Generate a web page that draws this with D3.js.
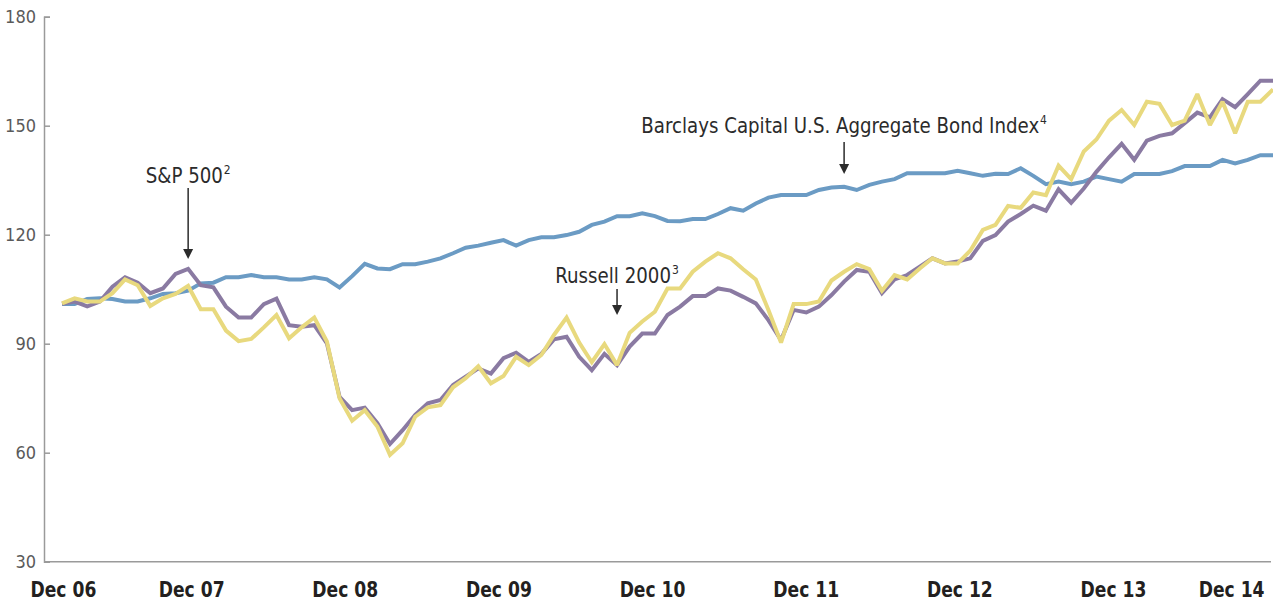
<!DOCTYPE html>
<html><head><meta charset="utf-8">
<script src="https://cdn.jsdelivr.net/npm/d3@7"></script>
<style>
html,body{margin:0;padding:0;background:#fff;}
svg{display:block;}
</style></head><body>
<svg id="chart" width="1273" height="604"></svg>
<script>
// ---- DATA ----
const months = d3.timeMonths(new Date(2006, 11, 1), new Date(2015, 0, 1)).map(d3.timeFormat("%b %y"));

const sp500 = [
  101.0,101.6,100.3,101.6,105.7,108.3,106.8,103.9,105.2,109.2,
  110.6,106.1,105.5,100.2,97.2,97.2,100.9,102.4,95.1,94.7,
  95.1,90.1,75.4,71.7,72.4,68.1,62.4,66.2,70.4,73.6,
  74.5,78.6,80.9,83.2,81.8,86.0,87.5,85.0,87.2,91.2,
  91.9,86.4,82.7,87.2,84.1,89.2,92.8,92.8,97.9,100.2,
  103.1,103.1,105.2,104.6,102.9,101.1,96.5,91.0,99.3,98.6,
  100.2,103.4,107.1,110.3,109.8,103.9,107.7,108.9,111.2,113.5,
  112.1,112.6,113.5,118.3,119.9,123.6,125.7,128.0,126.6,132.5,
  128.8,132.7,137.3,141.3,145.0,140.6,145.9,147.2,147.9,150.7,
  153.6,152.3,157.3,155.1,158.7,162.4,162.4
];

const russell2000 = [
  101.1,102.5,101.6,101.6,103.9,107.7,106.1,100.4,102.5,103.7,
  105.9,99.5,99.5,93.6,90.7,91.3,94.5,97.9,91.5,94.5,
  97.2,90.6,75.0,68.8,71.7,67.2,59.4,62.6,69.9,72.5,
  73.1,78.0,80.5,83.8,79.1,81.1,86.4,84.1,86.9,92.4,
  97.2,90.3,84.9,89.9,84.1,93.0,96.1,98.8,105.2,105.2,
  109.8,112.6,114.9,113.5,110.5,107.7,99.3,90.3,100.9,100.9,
  101.6,107.4,109.8,111.9,110.5,104.6,108.9,107.7,110.7,113.5,
  112.1,112.1,115.6,121.3,122.7,127.9,127.4,131.6,130.9,139.0,
  135.3,142.9,146.2,151.4,154.3,150.2,156.6,156.0,150.2,151.4,
  158.7,150.2,156.6,147.9,156.6,156.6,160.0
];

const barclaysAgg = [
  100.9,100.9,102.3,102.5,102.3,101.6,101.6,102.5,103.7,103.9,
  104.6,106.6,106.8,108.3,108.3,108.9,108.3,108.3,107.7,107.7,
  108.3,107.7,105.5,108.6,112.0,110.7,110.5,111.9,111.9,112.6,
  113.5,114.9,116.4,117.0,117.8,118.5,117.0,118.5,119.3,119.3,
  119.9,120.8,122.7,123.6,125.1,125.1,125.9,125.1,123.8,123.7,
  124.3,124.3,125.7,127.3,126.6,128.6,130.2,130.9,130.9,130.9,
  132.3,133.0,133.2,132.3,133.7,134.6,135.3,136.9,136.9,136.9,
  136.9,137.6,136.9,136.2,136.8,136.7,138.3,136.2,133.9,134.6,
  133.9,134.6,136.0,135.3,134.6,136.7,136.7,136.7,137.5,138.9,
  138.9,138.9,140.6,139.6,140.6,141.9,141.9
];

const yTicks = [30, 60, 90, 120, 150, 180];
const xTickLabels = ["Dec 06","Dec 07","Dec 08","Dec 09","Dec 10","Dec 11","Dec 12","Dec 13","Dec 14"];

const seriesNames = ["Barclays Capital U.S. Aggregate Bond Index", "S&P 500", "Russell 2000"];
const seriesValues = [barclaysAgg, sp500, russell2000];
const seriesColors = ["#6b9bc4", "#8a7aa2", "#e8d97e"];

const annotationNames = ["S&P 500", "Russell 2000", "Barclays Capital U.S. Aggregate Bond Index"];
const annotationSups = ["2", "3", "4"];
const annotationMonths = ["Oct 07", "Aug 10", "Feb 12"];

// ---- LAYOUT ----
const axisX = 44, axisBottom = 561.7, axisTop = 16.7;
const svg = d3.select("#chart");
const narrow = "'Liberation Sans Narrow','DejaVu Sans Condensed','Arial Narrow',sans-serif";

const x = d3.scalePoint().domain(months).range([62, 1273]);
const y = d3.scaleLinear().domain([30, 180]).range([axisBottom, axisTop]);

// Y axis
const yAxis = d3.axisLeft(y).tickValues(yTicks).tickSize(-6).tickPadding(10).tickFormat(d3.format("d"));
const gy = svg.append("g").attr("transform", `translate(${axisX},0)`).call(yAxis);
gy.select(".domain").attr("stroke", "#9a9a9a").attr("stroke-width", 1.5);
gy.selectAll(".tick line").attr("stroke", "#9a9a9a").attr("stroke-width", 1.5);
gy.selectAll(".tick text").attr("fill", "#5a5a5a").attr("font-family", narrow)
  .attr("font-size", 18).attr("font-weight", 300).attr("dx", 2);

// X axis
const xs = 0.93;
const xl = d3.scalePoint().domain(xTickLabels).range([37.5, 1266.6]);
const xAxis = d3.axisBottom(xl).tickSize(0).tickPadding(0);
const gx = svg.append("g").attr("transform", `translate(0,${axisBottom})`).call(xAxis);
gx.select(".domain").attr("d", `M${axisX},0H1271`).attr("stroke", "#9a9a9a").attr("stroke-width", 1.5);
gx.selectAll(".tick text").attr("fill", "#231f20").attr("font-family", narrow)
  .attr("font-size", 20.5).attr("font-weight", "bold").attr("y", 35.5).attr("dy", 0)
  .attr("transform", `scale(${xs},1)`);
// keep first/last labels inside the frame
gx.selectAll(".tick").each(function(d) {
  const t = d3.select(this).select("text");
  const w = t.node().getComputedTextLength() * xs;
  const cx = xl(d);
  const c = Math.min(Math.max(cx, 30 + w / 2), 1264 - w / 2);
  t.attr("x", (c - cx) / xs);
});

// Lines
const line = d3.line().x((d, i) => x(months[i])).y(d => y(d));
svg.append("g").selectAll("path").data(seriesValues).join("path")
  .attr("d", line).attr("fill", "none")
  .attr("stroke", (d, i) => seriesColors[i]).attr("stroke-width", 4)
  .attr("stroke-linejoin", "miter").attr("stroke-miterlimit", 2);

// Annotations
const annTextY = [182.7, 282.5, 132.7];
const annArrowTop = [188, 289, 142];
const annArrowTip = [259, 315, 174];
const ann = svg.append("g");
annotationNames.forEach((name, i) => {
  const ax = x(annotationMonths[i]);
  const t = ann.append("text").attr("transform", `translate(${ax},${annTextY[i]}) scale(0.92,1)`)
    .attr("text-anchor", "middle").attr("font-family", narrow)
    .attr("font-size", 22).attr("fill", "#2b2b2b");
  t.append("tspan").text(name);
  t.append("tspan").attr("font-size", 13).attr("dy", -9).attr("dx", 1).text(annotationSups[i]);
  ann.append("line").attr("x1", ax).attr("x2", ax)
    .attr("y1", annArrowTop[i]).attr("y2", annArrowTip[i] - 8)
    .attr("stroke", "#2b2b2b").attr("stroke-width", 1.5);
  ann.append("path")
    .attr("d", `M${ax - 5},${annArrowTip[i] - 10}L${ax + 5},${annArrowTip[i] - 10}L${ax},${annArrowTip[i]}Z`)
    .attr("fill", "#2b2b2b");
});
</script>
</body></html>
